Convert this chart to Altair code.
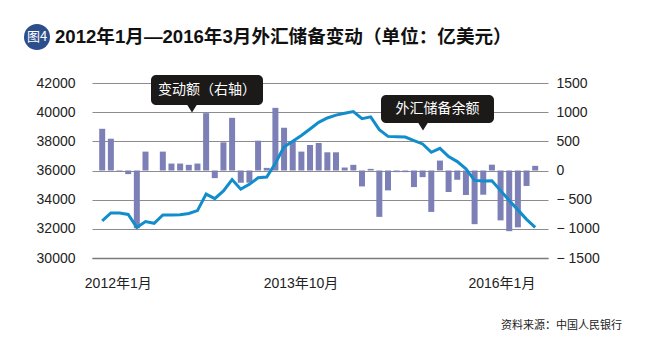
import altair as alt
import pandas as pd

# Monthly change of FX reserves (100 million USD), right axis
change_2012 = [715, 545, -15, -62, -990, 324, 0, 324, 119, 119, 97, 119]
change_2013 = [983, -131, 483, 903, -210, -210, 511, 45, 1074, 733, 506, 324]
change_2014 = [437, 471, 312, 312, 51, 97, -273, 28, -795, -341, -28, -28]
change_2015 = [-284, -114, -710, 170, -369, -159, -420, -920, -415, 100, -855, -1040]
change_2016 = [-975, -265, 80]

# FX reserve balance (100 million USD), left axis
reserve_2012 = [32550, 33090, 33080, 32990, 32100, 32500, 32380, 32950, 32950, 32960, 33050, 33250]
reserve_2013 = [34380, 34070, 34600, 35380, 34720, 35050, 35500, 35550, 36500, 37620, 38000, 38400]
reserve_2014 = [38850, 39300, 39600, 39800, 39930, 40040, 39550, 39680, 38800, 38340, 38320, 38290]
reserve_2015 = [38050, 37820, 37250, 37520, 36950, 36610, 36110, 35320, 35280, 35300, 34620, 33950]
reserve_2016 = [33300, 32650, 32100]

x_labels = ["2012年1月", "2013年10月", "2016年1月"]
left_ticks = [30000, 32000, 34000, 36000, 38000, 40000, 42000]
right_ticks = [-1500, -1000, -500, 0, 500, 1000, 1500]

title_text = "2012年1月—2016年3月外汇储备变动（单位：亿美元）"
badge_text = "图4"
bar_note = "变动额（右轴）"
line_note = "外汇储备余额"
source_text = "资料来源：中国人民银行"

change = change_2012 + change_2013 + change_2014 + change_2015 + change_2016
reserve = reserve_2012 + reserve_2013 + reserve_2014 + reserve_2015 + reserve_2016
months = [f"{y}-{m:02d}" for y in range(2012, 2017) for m in range(1, 13)][:len(change)]

df = pd.DataFrame({"idx": list(range(len(change))), "month": months,
                   "change": change, "reserve": reserve})

FONT = "Liberation Sans, Noto Sans CJK SC"
label_pos = [1.8, 22.9, 46.1]
label_expr = (f"datum.value < 10 ? '{x_labels[0]}' : "
              f"datum.value < 30 ? '{x_labels[1]}' : '{x_labels[2]}'")

x_enc = alt.X("idx:Q",
              scale=alt.Scale(domain=[-0.6, 50.9], nice=False, zero=False),
              axis=alt.Axis(values=label_pos, labelExpr=label_expr, title=None,
                            ticks=False, grid=False, domain=True,
                            domainColor="#7a7a7a", domainWidth=1.5,
                            labelFlush=False, labelOverlap=False,
                            labelFontSize=14, labelFont=FONT, labelColor="#222",
                            labelPadding=18))

bars = alt.Chart(df).mark_bar(size=6, color="#7c80b6").encode(
    x=x_enc,
    y=alt.Y("change:Q",
            scale=alt.Scale(domain=[-1500, 1500], nice=False),
            axis=alt.Axis(orient="right", values=right_ticks, title=None,
                          grid=False, domain=False, ticks=False,
                          labelPadding=8, labelFontSize=14, labelFont=FONT,
                          labelColor="#222",
                          labelExpr="datum.value < 0 ? '\u2212 ' + abs(datum.value) : '' + datum.value")),
)

line = alt.Chart(df).mark_line(color="#128dcc", strokeWidth=3).encode(
    x=alt.X("idx:Q"),
    y=alt.Y("reserve:Q",
            scale=alt.Scale(domain=[30000, 42000], nice=False, zero=False),
            axis=alt.Axis(orient="left", values=left_ticks, title=None,
                          grid=True, gridColor="#8c8c8c", gridWidth=1.2,
                          domain=False, ticks=False, format="d",
                          labelPadding=17, labelFontSize=14, labelFont=FONT,
                          labelColor="#222")),
)

one = pd.DataFrame({"a": [0]})

box1 = alt.Chart(one).mark_rect(color="#1c1a18", cornerRadius=5).encode(
    x=alt.value(59), x2=alt.value(171), y=alt.value(-8), y2=alt.value(22))
tri1 = alt.Chart(one).mark_point(shape="M-1,-0.8L1,-0.8L0,0.8Z", size=100,
                                 filled=True, color="#1c1a18", opacity=1).encode(
    x=alt.value(100), y=alt.value(25.5))
txt1 = alt.Chart(one).mark_text(text=bar_note, color="white", fontSize=14,
                                font="Noto Sans CJK SC", align="center",
                                baseline="middle").encode(
    x=alt.value(115), y=alt.value(7))

box2 = alt.Chart(one).mark_rect(color="#1c1a18", cornerRadius=5).encode(
    x=alt.value(289), x2=alt.value(402), y=alt.value(12), y2=alt.value(40))
tri2 = alt.Chart(one).mark_point(shape="M-1,-0.8L1,-0.8L0,0.8Z", size=100,
                                 filled=True, color="#1c1a18", opacity=1).encode(
    x=alt.value(331), y=alt.value(43.5))
txt2 = alt.Chart(one).mark_text(text=line_note, color="white", fontSize=14,
                                font="Noto Sans CJK SC", align="center",
                                baseline="middle").encode(
    x=alt.value(345.5), y=alt.value(26))

badge = alt.Chart(one).mark_point(shape="circle", size=676, filled=True,
                                  color="#2c4e8c", opacity=1).encode(
    x=alt.value(-55), y=alt.value(-46))
badge_t = alt.Chart(one).mark_text(text=badge_text, color="white", fontSize=13,
                                   font="Noto Sans CJK SC", align="center",
                                   baseline="middle").encode(
    x=alt.value(-55), y=alt.value(-46))
title = alt.Chart(one).mark_text(text=title_text, color="#111", fontSize=18.6,
                                 fontWeight="bold", font=FONT, align="left",
                                 baseline="middle").encode(
    x=alt.value(-37), y=alt.value(-46))
source = alt.Chart(one).mark_text(text=source_text, color="#222", fontSize=11,
                                  font="Noto Sans CJK SC", align="right",
                                  baseline="middle").encode(
    x=alt.value(530), y=alt.value(243))

chart = alt.layer(
    bars, line, box1, tri1, txt1, box2, tri2, txt2, badge, badge_t, title, source
).resolve_scale(y="independent").properties(
    width=456, height=175,
    autosize=alt.AutoSizeParams(type="none"),
    padding={"left": 84, "top": 75, "right": 99, "bottom": 90},
    background="white",
).configure_view(stroke=None)

chart.save("out.html", embed_options={"renderer": "svg", "actions": False})
